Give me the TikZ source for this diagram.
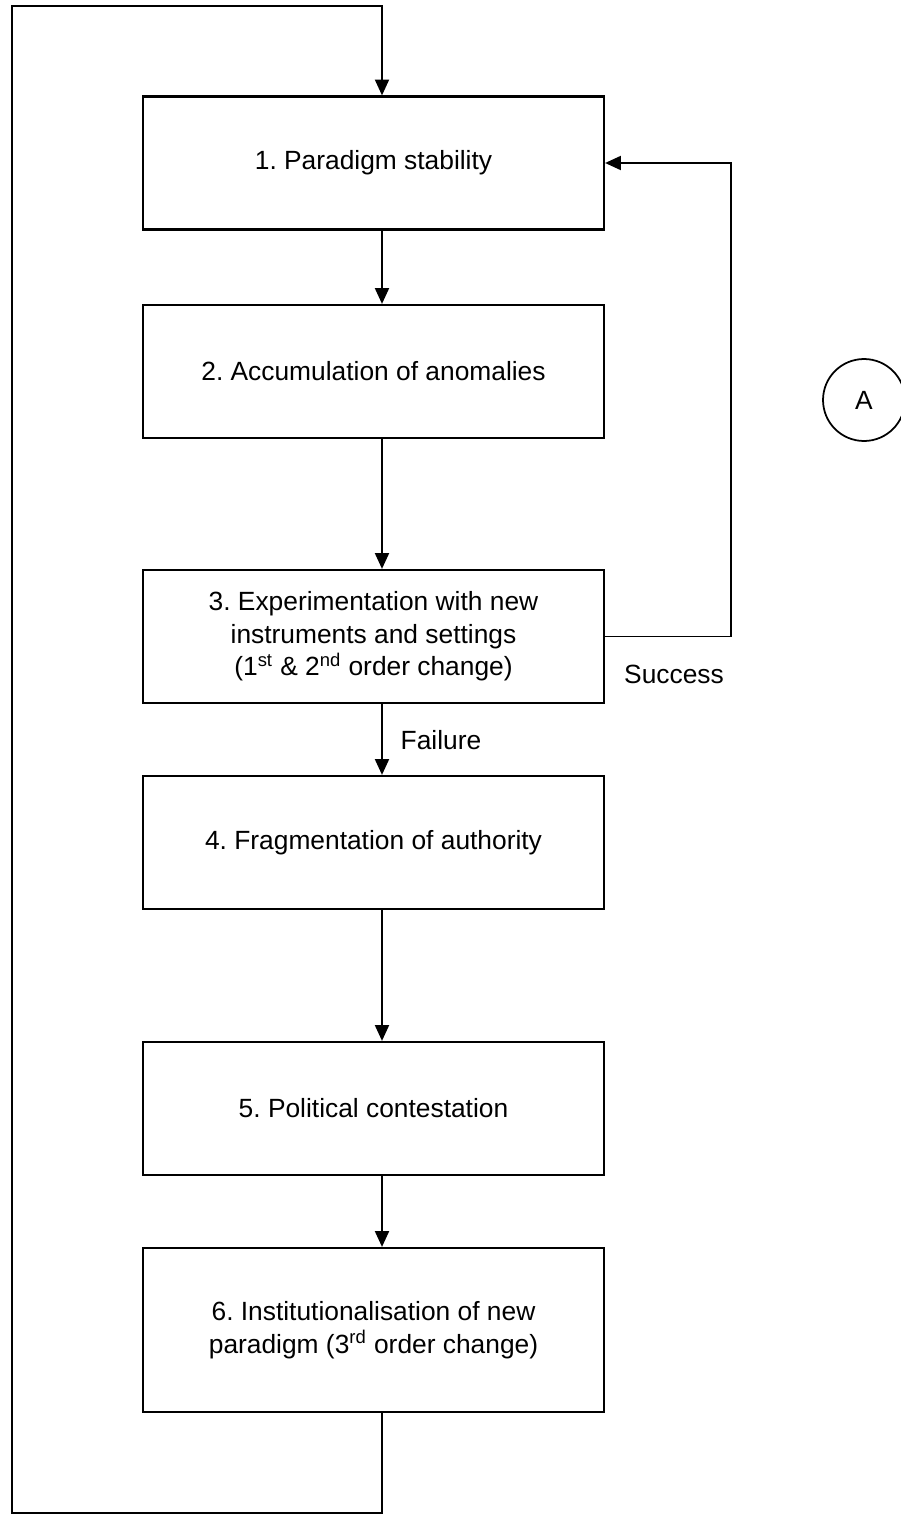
\documentclass[tikz,border=0pt]{standalone}
\usepackage{fontspec}
\setmainfont{Liberation Sans}
\usetikzlibrary{arrows.meta}
\pgfdeclarelayer{bg}
\pgfsetlayers{bg,main}
\frenchspacing
\tikzstyle{stage}=[draw=black, line width=1.3pt, shape=rectangle, minimum width=9.22cm, minimum height=2.66cm, align=center, inner sep=2pt, font=\fontsize{15}{18.5}\selectfont]
\tikzstyle{tag}=[font=\fontsize{15}{18.5}\selectfont, inner sep=1pt]
\tikzstyle{wire}=[line width=1pt]
\tikzstyle{flow}=[wire, -{Triangle[length=9pt, width=8pt]}]

\begin{document}
\begin{tikzpicture}[x=0.02cm, y=-0.02cm]
    \useasboundingbox (0, 0) rectangle (901, 1514);

    \node [stage] (s1) at (373.5, 163) {1. Paradigm stability};
    \node [stage] (s2) at (373.5, 371.5) {2. Accumulation of anomalies};
    \node [stage] (s3) at (373.5, 636.5) {3. Experimentation with new\\instruments and settings\\(1\textsuperscript{st} \& 2\textsuperscript{nd} order change)};
    \node [stage] (s4) at (373.5, 842.5) {4. Fragmentation of authority};
    \node [stage] (s5) at (373.5, 1108.5) {5. Political contestation};
    \node [stage, minimum height=3.28cm] (s6) at (373.5, 1330) {6. Institutionalisation of new\\paradigm (3\textsuperscript{rd} order change)};

    \node [tag] (succ) at (674, 674) {Success};
    \node [tag] (fail) at (441, 740) {Failure};
    \node [draw=black, line width=1pt, shape=circle, minimum size=1.64cm, tag] (circA) at (864, 400) {A};

    \coordinate (cx) at (382, 0);
    \coordinate (sx) at (731, 0);
    \coordinate (botl) at (12, 1513);
    \coordinate (topl) at (12, 6);

    \begin{pgfonlayer}{bg}
        \draw [flow] (s1.south -| cx) -- (s2.north -| cx);
        \draw [flow] (s2.south -| cx) -- (s3.north -| cx);
        \draw [flow] (s3.south -| cx) -- (s4.north -| cx);
        \draw [flow] (s4.south -| cx) -- (s5.north -| cx);
        \draw [flow] (s5.south -| cx) -- (s6.north -| cx);
        \draw [flow] (s3.east) -- (s3.east -| sx) -- (s1.east -| sx) -- (s1.east);
        \draw [flow] (s6.south -| cx) -- (botl -| cx) -- (botl) -- (topl) -- (topl -| cx) -- (s1.north -| cx);
    \end{pgfonlayer}
\end{tikzpicture}
\end{document}
